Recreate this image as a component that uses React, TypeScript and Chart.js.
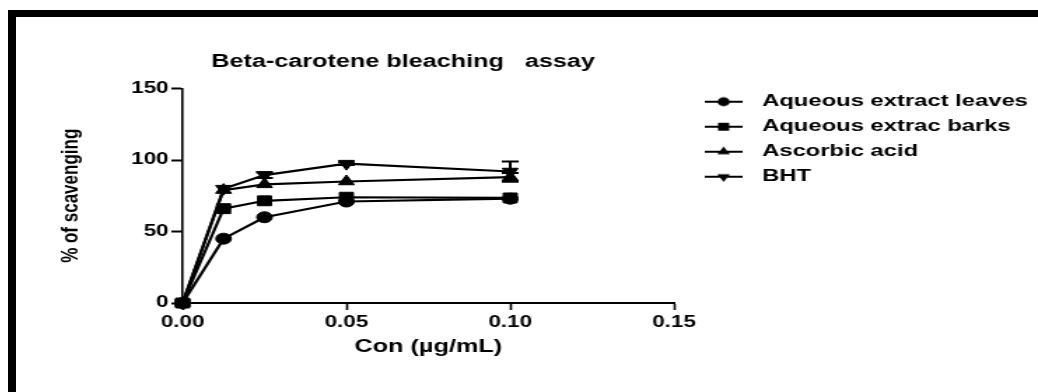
import React, { useEffect, useRef } from 'react';
import { Chart, registerables } from 'chart.js';

Chart.register(...registerables);

// ---------- data ----------
const concentrations = [0, 0.0125, 0.025, 0.05, 0.1];
const seriesLabels = ['Aqueous extract leaves', 'Aqueous extrac barks', 'Ascorbic acid', 'BHT'];
const leavesValues = [0, 45, 60, 71, 73];
const barksValues = [0, 66, 71.5, 74, 73.5];
const ascorbicValues = [0, 79, 83, 85, 88];
const bhtValues = [0, 80, 89.5, 97.5, 92];
const leavesErrors = [0, 0, 0, 0, 0];
const barksErrors = [0, 0, 0, 0, 0];
const ascorbicErrors = [0, 0, 0, 0, 3];
const bhtErrors = [0, 0, 2, 1, 7];
const xTickValues = [0, 0.05, 0.1, 0.15];
const yTickValues = [0, 50, 100, 150];
const chartTitle = 'Beta-carotene bleaching   assay';
const xAxisTitle = 'Con (µg/mL)';
const yAxisTitle = '% of scavenging';

// ---------- styles ----------
const STRETCH = 1.4;
const CW = 1022 / STRETCH;
const CH = 375;
const FONT = "'Liberation Sans', Arial, sans-serif";
const markerStyles = ['circle', 'rect', 'triangle', 'triangle'];
const markerRotations = [0, 0, 0, 180];
const markerRadii = [5.5, 7, 6.5, 6.5];

const seriesValues = [leavesValues, barksValues, ascorbicValues, bhtValues];
const seriesErrors = [leavesErrors, barksErrors, ascorbicErrors, bhtErrors];

function drawMarker(ctx: CanvasRenderingContext2D, style: string, rot: number, r: number, x: number, y: number) {
  ctx.beginPath();
  if (style === 'circle') {
    ctx.arc(x, y, r, 0, Math.PI * 2);
  } else if (style === 'rect') {
    const s = Math.SQRT1_2 * r;
    ctx.rect(x - s, y - s, 2 * s, 2 * s);
  } else {
    const sign = rot === 180 ? -1 : 1;
    ctx.moveTo(x, y - sign * r);
    ctx.lineTo(x + r * 0.866, y + sign * r * 0.5);
    ctx.lineTo(x - r * 0.866, y + sign * r * 0.5);
    ctx.closePath();
  }
  ctx.fill();
}

function legendGlyph(i: number): HTMLCanvasElement {
  const c = document.createElement('canvas');
  c.width = 27;
  c.height = 16;
  const g = c.getContext('2d')!;
  g.fillStyle = '#000';
  g.strokeStyle = '#000';
  g.lineWidth = 2;
  g.beginPath();
  g.moveTo(0, 8);
  g.lineTo(27, 8);
  g.stroke();
  drawMarker(g, markerStyles[i], markerRotations[i], markerRadii[i] * 0.8, 13.5, 8);
  return c;
}

const errorBarsPlugin = {
  id: 'errorBars',
  afterDatasetsDraw(chart: any) {
    const { ctx } = chart;
    const xs = chart.scales.x;
    const ys = chart.scales.y;
    chart.data.datasets.forEach((ds: any, i: number) => {
      const errs = seriesErrors[i];
      ds.data.forEach((pt: any, j: number) => {
        const e = errs[j];
        if (!e) return;
        const px = xs.getPixelForValue(pt.x);
        const top = ys.getPixelForValue(pt.y + e);
        const bot = ys.getPixelForValue(pt.y - e);
        ctx.save();
        ctx.strokeStyle = '#000';
        ctx.lineWidth = 2;
        ctx.beginPath();
        ctx.moveTo(px, top);
        ctx.lineTo(px, bot);
        ctx.moveTo(px - 6, top);
        ctx.lineTo(px + 6, top);
        ctx.moveTo(px - 6, bot);
        ctx.lineTo(px + 6, bot);
        ctx.stroke();
        ctx.restore();
      });
    });
  },
};

const nudgePlugin = {
  id: 'nudge',
  afterLayout(chart: any) {
    const lg = chart.legend;
    if (lg) {
      lg.left += 8.4;
      lg.right += 8.4;
      lg.top -= 3.4;
      lg.bottom -= 3.4;
    }
    const tb = chart.titleBlock;
    if (tb) {
      tb.left -= 18;
      tb.right -= 18;
    }
  },
};

export default function App() {
  const ref = useRef<HTMLCanvasElement>(null);

  useEffect(() => {
    if (!ref.current) return;
    const datasets = seriesLabels.map((label, i) => ({
      label,
      data: concentrations.map((x, j) => ({ x, y: seriesValues[i][j] })),
      borderColor: '#000',
      backgroundColor: '#000',
      borderWidth: 2.2,
      pointStyle: markerStyles[i],
      pointRotation: markerRotations[i],
      pointRadius: markerRadii[i],
      pointBackgroundColor: '#000',
      pointBorderColor: '#000',
      pointBorderWidth: 1,
      tension: 0,
      clip: false as any,
    }));

    const chart = new Chart(ref.current, {
      type: 'line',
      data: { datasets },
      plugins: [errorBarsPlugin, nudgePlugin],
      options: {
        animation: false,
        responsive: true,
        maintainAspectRatio: false,
        layout: { padding: { left: 0, right: 10, top: 0, bottom: 34 } },
        plugins: {
          title: {
            display: true,
            text: chartTitle,
            fullSize: false,
            color: '#000',
            font: { family: FONT, size: 18, weight: 'bold' },
            padding: { top: 34, bottom: 16 },
          },
          legend: {
            position: 'right',
            align: 'start',
            fullSize: false,
            maxWidth: 250,
            labels: {
              usePointStyle: true,
              pointStyleWidth: 38,
              boxHeight: 17,
              padding: 8,
              color: '#000',
              font: { family: FONT, size: 17, weight: 'bold' },
              generateLabels: (c: any) =>
                c.data.datasets.map((ds: any, i: number) => ({
                  text: ds.label,
                  pointStyle: legendGlyph(i),
                  fillStyle: '#000',
                  strokeStyle: '#000',
                  lineWidth: 0,
                  hidden: false,
                  datasetIndex: i,
                  fontColor: '#000',
                })),
            },
          },
          tooltip: { enabled: false },
        },
        scales: {
          x: {
            type: 'linear',
            min: 0,
            max: 0.15,
            afterBuildTicks: (scale: any) => {
              scale.ticks = xTickValues.map((v) => ({ value: v }));
            },
            afterFit: (scale: any) => {
              scale.height = 55;
            },
            border: { display: true, color: '#000', width: 2 },
            grid: { display: true, drawOnChartArea: false, drawTicks: true, tickLength: 7, tickColor: '#000', tickWidth: 1.6 },
            ticks: {
              color: '#000',
              padding: 3,
              maxRotation: 0,
              font: { family: FONT, size: 16, weight: 'bold' },
              callback: (v: any) => Number(v).toFixed(2),
            },
            title: {
              display: true,
              text: xAxisTitle,
              color: '#000',
              font: { family: FONT, size: 18, weight: 'bold' },
              padding: { top: 0, bottom: 0 },
            },
          },
          y: {
            type: 'linear',
            min: 0,
            max: 150,
            afterBuildTicks: (scale: any) => {
              scale.ticks = yTickValues.map((v) => ({ value: v }));
            },
            afterFit: (scale: any) => {
              scale.width = 119;
            },
            border: { display: true, color: '#000', width: 1.6 },
            grid: { display: true, drawOnChartArea: false, drawTicks: true, tickLength: 8, tickColor: '#000', tickWidth: 2 },
            ticks: {
              color: '#000',
              padding: 2,
              font: { family: FONT, size: 16, weight: 'bold' },
              callback: (v: any) => String(v),
            },
            title: {
              display: true,
              text: yAxisTitle,
              color: '#000',
              font: { family: FONT, size: 17, weight: 'bold' },
              padding: { top: 29, bottom: 0 },
            },
          },
        },
      } as any,
    });
    return () => chart.destroy();
  }, []);

  return (
    <div
      style={{
        position: 'absolute',
        left: 8,
        top: 10,
        width: 1030,
        height: 382,
        boxSizing: 'border-box',
        borderTop: '7px solid #000',
        borderLeft: '8px solid #000',
        background: '#fff',
        overflow: 'hidden',
      }}
    >
      <div
        style={{
          position: 'relative',
          width: CW,
          height: CH,
          transform: `scaleX(${STRETCH})`,
          transformOrigin: '0 0',
        }}
      >
        <canvas ref={ref} />
      </div>
    </div>
  );
}
